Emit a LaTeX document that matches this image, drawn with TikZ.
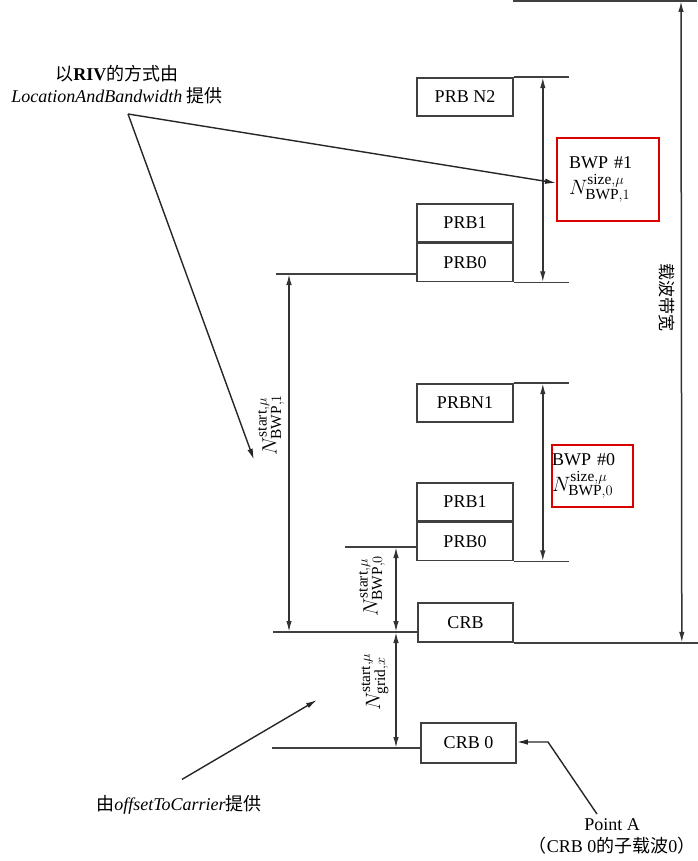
\documentclass[tikz,border=0pt]{standalone}
\usepackage{fontspec}
\setmainfont{Liberation Serif}
\newfontfamily\cjk{Noto Sans CJK SC}
\usetikzlibrary{arrows.meta,positioning,calc}

\begin{document}
\begin{tikzpicture}[x=1pt,y=-1pt,
    font=\fontsize{18}{22}\selectfont,
    line width=1.6pt, draw=black!75,
    prb/.style={draw=black!75, line width=1.6pt, minimum width=96pt, minimum height=38pt, inner sep=0pt},
    dim/.style={{Latex[length=11pt,width=5.5pt]}-{Latex[length=11pt,width=5.5pt]}, draw=black!80, line width=1.5pt},
    pointer/.style={-{Latex[length=11pt,width=5.5pt]}, draw=black!85, line width=1.4pt},
    nlabel/.style={font=\fontsize{22}{26}\selectfont},
    bwp/.style={draw=red!85!black, line width=2pt, align=left, inner ysep=0pt}
  ]

        % 画布大小
        \useasboundingbox (0,0) rectangle (697,861);

        % BWP #1 的 PRB
        \node[prb] (prbNtwo) at (465,97) {PRB N2};
        \node[prb] (prbOneA) at (465,223) {PRB1};
        \node[prb, below=0pt of prbOneA] (prbZeroA) {PRB0};

        % BWP #0 的 PRB
        \node[prb] (prbNone) at (465,403) {PRBN1};
        \node[prb] (prbOneB) at (465,502) {PRB1};
        \node[prb, below=0pt of prbOneB] (prbZeroB) {PRB0};

        % CRB
        \node[prb, minimum width=95pt, minimum height=39pt] (crb) at (465.5,622.5) {CRB};
        \node[prb, minimum width=95pt, minimum height=40pt] (crbZero) at (468.5,743) {CRB 0};

        % 右侧参考线
        \draw (prbNtwo.north east) -- ++(55,0) coordinate (topBOne);
        \draw (prbZeroA.south east) -- ++(55,0) coordinate (botBOne);
        \draw (prbNone.north east) -- ++(55,0) coordinate (topBZero);
        \draw (prbZeroB.south east) -- ++(55,0) coordinate (botBZero);
        \draw (crb.south east) -- ++(184,0) coordinate (carBot);
        \coordinate (carTop) at (697,1);
        \draw (513,1) -- (carTop);

        % 左侧参考线
        \coordinate (startBOne) at (276,274);
        \draw (startBOne) -- (startBOne -| prbZeroA.west);
        \coordinate (startBZero) at (345,547);
        \draw (startBZero) -- (startBZero -| prbZeroB.west);
        \coordinate (crbLine) at (273,632);
        \draw (crbLine) -- (crbLine -| crb.west);
        \coordinate (crbZeroLine) at (272,748);
        \draw (crbZeroLine) -- (crbZeroLine -| crbZero.west);

        % 尺寸箭头
        \draw[dim] ($(topBOne)+(-26,0)$) -- ($(botBOne)+(-26,0)$);
        \draw[dim] ($(topBZero)+(-26,0)$) -- ($(botBZero)+(-26,0)$);
        \draw[dim] ($(carTop)+(-16,0)$) -- ($(carBot)+(-16,0)$);
        \draw[dim] ($(startBOne)+(13,0)$) -- ($(startBOne |- crbLine)+(13,0)$);
        \draw[dim] ($(startBZero)+(51,0)$) -- ($(startBZero |- crbLine)+(51,0)$);
        \draw[dim] ($(startBZero |- crbLine)+(51,0)$) -- ($(startBZero |- crbZeroLine)+(51,0)$);

        % 尺寸标注
        \node[nlabel, rotate=90] (nStartBOne) at (271,425) {$N^{\mathrm{start},\mu}_{\mathrm{BWP},1}$};
        \node[nlabel, rotate=90] (nStartBZero) at (372,586) {$N^{\mathrm{start},\mu}_{\mathrm{BWP},0}$};
        \node[nlabel, rotate=90] (nGrid) at (375,682) {$N^{\mathrm{start},\mu}_{\mathrm{grid},x}$};
        \node[rotate=-90, font=\cjk\fontsize{17}{20}\selectfont] (carrier) at (667,297) {载波带宽};

        % BWP 框
        \node[bwp, text width=78pt, inner xsep=12pt, minimum height=83pt] (bwpOne) at (608,179.5)
            {BWP \#1\\[4pt]{\fontsize{22}{26}\selectfont$N^{\mathrm{size},\mu}_{\mathrm{BWP},1}$}};
        \node[bwp, text width=81pt, inner xsep=0pt, minimum height=62pt] (bwpZero) at (592.5,476)
            {BWP \#0\\[4pt]{\fontsize{22}{26}\selectfont$N^{\mathrm{size},\mu}_{\mathrm{BWP},0}$}};

        % 说明文字
        \node[align=center] (rivText) at (117,85)
            {{\cjk 以}\textbf{RIV}{\cjk 的方式由}\\\textit{LocationAndBandwidth} {\cjk 提供}};
        \coordinate (rivFrom) at (128,114);
        \draw[pointer] (rivFrom) -- ($(bwpOne.west)+(0,3.5)$);
        \draw[pointer] (rivFrom) -- (nStartBOne.north west);

        \node (offText) at (179,805) {{\cjk 由}\textit{offsetToCarrier}{\cjk 提供}};
        \coordinate (offTip) at (317,700);
        \draw[pointer] ($(offText.north)+(3,-12)$) -- (offTip);

        \node[align=center] (pointA) at (612,836)
            {Point A\\{\cjk （}CRB 0{\cjk 的子载波}0{\cjk ）}};
        \coordinate (bendA) at (548,742);
        \draw[pointer] ($(pointA.north)+(-15,0)$) -- (bendA) -- (bendA -| crbZero.east);

\end{tikzpicture}
\end{document}
